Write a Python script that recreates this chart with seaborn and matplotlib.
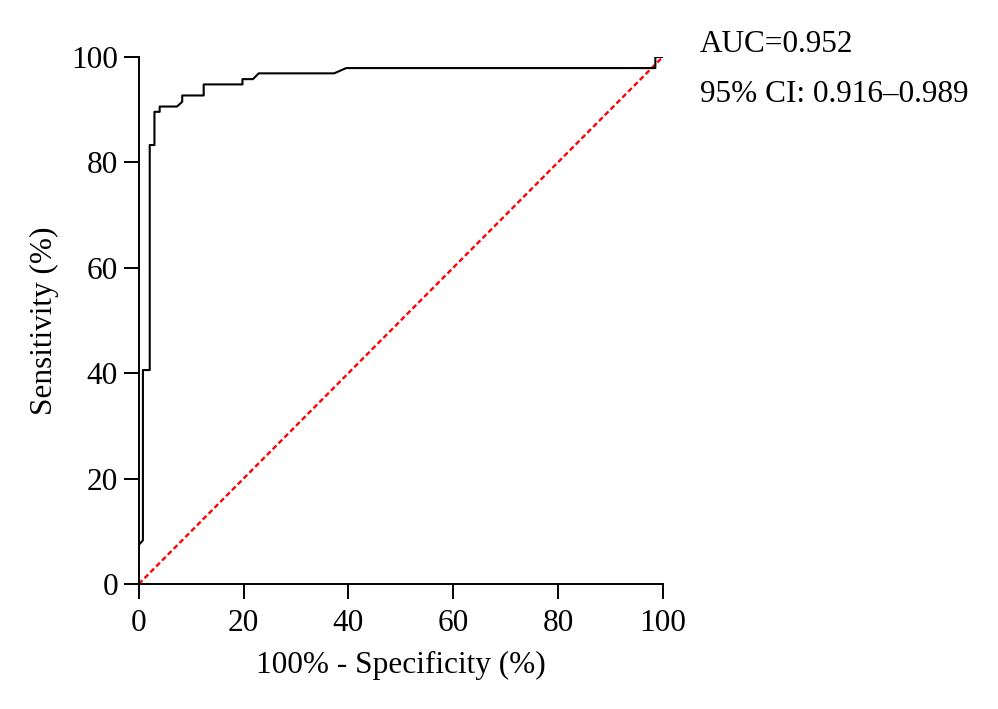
import matplotlib
matplotlib.use("Agg")
import matplotlib.pyplot as plt
import numpy as np
import pandas as pd
import seaborn as sns

# ROC curve points (100% - specificity, sensitivity)
fpr = [0.0, 0.8, 0.8, 2.1, 2.1, 3.0, 3.0, 4.0, 4.0, 7.3, 8.3, 8.3, 12.4, 12.4,
       19.8, 19.8, 21.8, 22.9, 37.3, 39.6, 98.6, 98.6, 100.0]
tpr = [7.4, 8.3, 40.6, 40.6, 83.3, 83.3, 89.6, 89.6, 90.6, 90.6, 91.5, 92.7, 92.7, 94.8,
       94.8, 95.8, 95.8, 96.9, 96.9, 97.9, 97.9, 100.0, 100.0]
diag = [0, 100]

auc_text = "AUC=0.952"
ci_text = "95% CI: 0.916\u20130.989"

sns.set_style("ticks")
plt.rcParams["font.family"] = ["Liberation Serif", "DejaVu Serif"]
plt.rcParams["text.color"] = "black"
plt.rcParams["axes.labelcolor"] = "black"
fs = 22.5

roc = pd.DataFrame({"fpr": fpr, "tpr": tpr})

fig = plt.figure(figsize=(9.98, 7.09), dpi=100)
ax = fig.add_axes([0.139, 0.1763, 0.525, 0.7433])

sns.lineplot(x=diag, y=diag, ax=ax, color="#ff0000", lw=1.7,
             linestyle=(0, (2.2, 1.3)), zorder=2)
sns.lineplot(data=roc, x="fpr", y="tpr", ax=ax, sort=False, estimator=None,
             color="black", lw=1.5, zorder=3)

ax.set_xlim(0, 100)
ax.set_ylim(0, 100)
ax.set_xticks([0, 20, 40, 60, 80, 100])
ax.set_yticks([0, 20, 40, 60, 80, 100])
ax.tick_params(axis="x", pad=7)
ax.tick_params(axis="y", pad=4)
ax.tick_params(length=11, width=1.4, labelsize=fs, colors="black")
for side in ["left", "bottom"]:
    ax.spines[side].set_linewidth(1.4)
    ax.spines[side].set_color("black")
sns.despine(ax=ax)
ax.set_xlabel("100% - Specificity (%)", fontsize=fs, labelpad=9)
ax.set_ylabel("Sensitivity (%)", fontsize=fs, labelpad=9)

fig.text(0.701, 0.927, auc_text, fontsize=fs, va="baseline")
fig.text(0.701, 0.856, ci_text, fontsize=fs, va="baseline")

fig.savefig("out.png", dpi=100)
